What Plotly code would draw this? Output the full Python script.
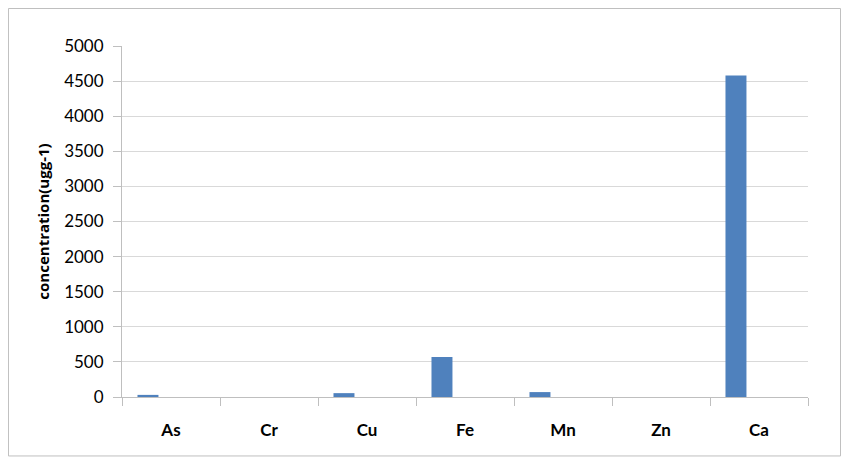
import plotly.graph_objects as go

elements = ["As", "Cr", "Cu", "Fe", "Mn", "Zn", "Ca"]
concentration = [30, 0, 55, 570, 70, 0, 4580]
y_ticks = [0, 500, 1000, 1500, 2000, 2500, 3000, 3500, 4000, 4500, 5000]

fig = go.Figure()

fig.add_trace(go.Bar(
    x=elements,
    y=concentration,
    width=0.214,
    offset=-0.342,
    marker=dict(color="#4f81bd", line=dict(width=0)),
    showlegend=False,
))

# the page body has an 8px margin, so the figure is sized 16px smaller than the window
fig.update_layout(
    width=833,
    height=450,
    margin=dict(l=114, r=33, t=38, b=61),
    plot_bgcolor="white",
    paper_bgcolor="white",
    font=dict(family="Lato", size=16, color="black"),
    xaxis=dict(
        type="category",
        showline=True,
        linecolor="#bfbfbf",
        linewidth=1,
        ticks="outside",
        tickson="boundaries",
        ticklen=8,
        tickcolor="#bfbfbf",
        showgrid=False,
        tickfont=dict(family="Lato", size=17, weight="bold"),
        ticklabelstandoff=18,
    ),
    yaxis=dict(
        range=[0, 5000],
        tickvals=y_ticks,
        showline=True,
        linecolor="#bfbfbf",
        ticks="outside",
        ticklen=8,
        tickcolor="#bfbfbf",
        gridcolor="#d9d9d9",
        zeroline=False,
        tickfont=dict(family="Lato", size=17),
        ticklabelstandoff=6,
        title=dict(text="concentration(ugg-1)",
                   font=dict(family="Open Sans", size=15, weight="bold"),
                   standoff=10),
    ),
    shapes=[dict(
        type="rect", xref="paper", yref="paper",
        x0=-0.1655, x1=1.0474, y0=-0.168, y1=1.1068,
        line=dict(color="#bfbfbf", width=1),
    )],
)

fig.write_html("out.html")
